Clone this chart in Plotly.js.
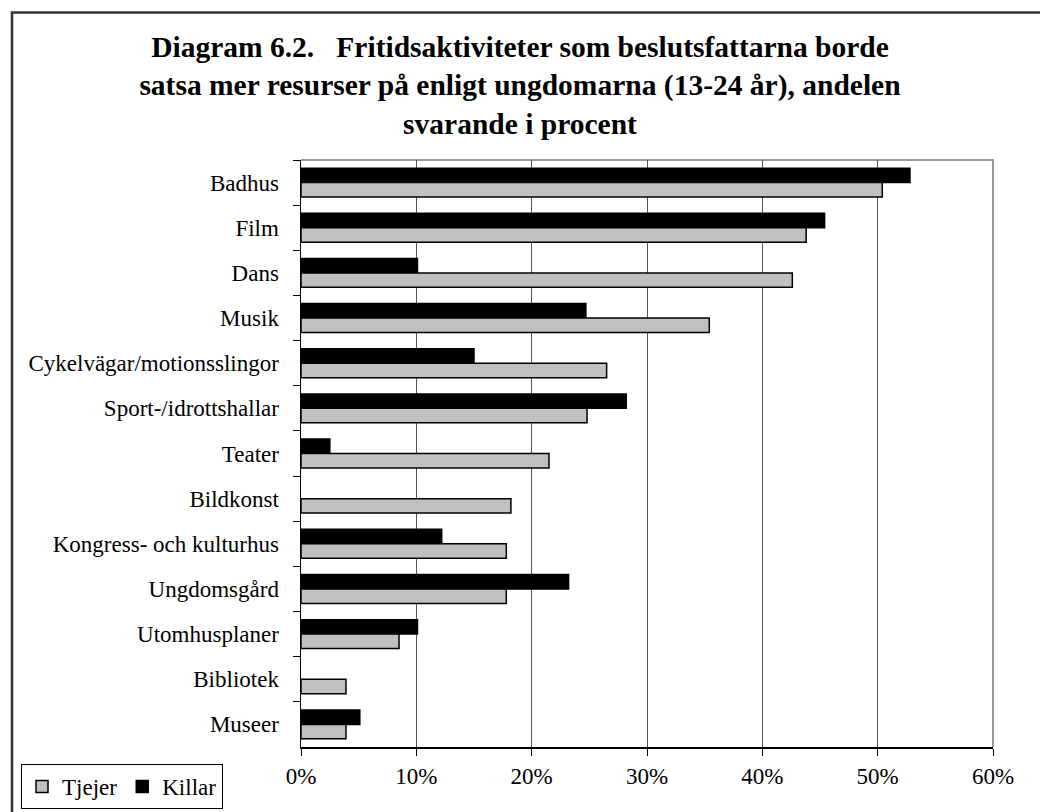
<!DOCTYPE html>
<html>
<head>
<meta charset="utf-8">
<script src="https://cdn.plot.ly/plotly-3.0.1.min.js"></script>
<style>
html,body{margin:0;padding:0;background:#fff;}
#chart{width:1040px;height:812px;}
</style>
</head>
<body>
<div id="chart"></div>
<script>
const categories = ['Badhus','Film','Dans','Musik','Cykelvägar/motionsslingor','Sport-/idrottshallar','Teater','Bildkonst','Kongress- och kulturhus','Ungdomsgård','Utomhusplaner','Bibliotek','Museer'];
const tjejer = [50.4, 43.8, 42.6, 35.4, 26.5, 24.8, 21.5, 18.2, 17.8, 17.8, 8.5, 3.9, 3.9];
const killar = [52.8, 45.4, 10.1, 24.7, 15.0, 28.2, 2.5, 0, 12.2, 23.2, 10.1, 0, 5.1];
const xTickVals = [0, 10, 20, 30, 40, 50, 60];
const xTickText = ['0%', '10%', '20%', '30%', '40%', '50%', '60%'];
const titleText = '<b>Diagram 6.2.   Fritidsaktiviteter som beslutsfattarna borde<br>satsa mer resurser på enligt ungdomarna (13-24 år), andelen<br>svarande i procent</b>';

const W = 1040, H = 812;
const m = {l: 301, r: 47, t: 160, b: 65};
const pw = W - m.l - m.r, ph = H - m.t - m.b;
const px = x => (x - m.l) / pw;
const py = y => (H - m.b - y) / ph;

const font = '"Liberation Serif", "Times New Roman", serif';

const lineW = v => v.map(d => d === 0 ? 0 : 1.5);

const traces = [
  {type: 'bar', orientation: 'h', name: 'Killar', y: categories, x: killar,
   marker: {color: '#000000', line: {color: '#000000', width: lineW(killar)}}, legendrank: 2, hoverinfo: 'x+y'},
  {type: 'bar', orientation: 'h', name: 'Tjejer', y: categories, x: tjejer,
   marker: {color: '#c0c0c0', line: {color: '#000000', width: lineW(tjejer)}}, legendrank: 1, hoverinfo: 'x+y'}
];

const layout = {
  width: W, height: H,
  margin: m,
  paper_bgcolor: '#ffffff', plot_bgcolor: '#ffffff',
  font: {family: font, size: 23, color: '#000000'},
  title: {text: titleText, font: {family: font, size: 29.5, color: '#000000'},
          x: 0.5, xref: 'container', xanchor: 'center', y: 1 - 57 / H, yref: 'container', yanchor: 'top'},
  barmode: 'group', bargap: 0.36, bargroupgap: 0,
  xaxis: {range: [0, 60], tickmode: 'array', tickvals: xTickVals, ticktext: xTickText, showgrid: true, gridcolor: '#555555', gridwidth: 1,
          zeroline: false, showline: true, linecolor: '#000000', linewidth: 1.5, ticks: 'outside', ticklen: 7,
          tickcolor: '#000000', tickfont: {family: font, size: 23, color: '#000000'}, ticklabelstandoff: 1,
          automargin: false, fixedrange: true},
  yaxis: {autorange: 'reversed', type: 'category', showline: true, linecolor: '#000000', linewidth: 1.5,
          ticks: 'outside', ticklen: 7, tickcolor: '#000000', tickson: 'boundaries', showgrid: false,
          tickfont: {family: font, size: 23, color: '#000000'}, ticklabelstandoff: 16, automargin: false, fixedrange: true},
  legend: {orientation: 'h', xref: 'container', yref: 'container', x: 21 / W, y: 1 - 764 / H, xanchor: 'left', yanchor: 'top',
           bordercolor: '#000000', borderwidth: 1, bgcolor: '#ffffff',
           font: {family: font, size: 23, color: '#000000'}, itemwidth: 30, tracegroupgap: 0},
  showlegend: true,
  shapes: [
    {type: 'path', xref: 'paper', yref: 'paper', layer: 'below',
     path: 'M 0,1 L 1,1 L 1,0', line: {color: '#999999', width: 2}},
    {type: 'path', xref: 'paper', yref: 'paper', layer: 'above',
     path: 'M ' + px(12) + ',' + py(830) + ' L ' + px(12) + ',' + py(12.5) + ' L ' + px(1050) + ',' + py(12.5),
     line: {color: '#333333', width: 2.5}}
  ]
};

Plotly.newPlot('chart', traces, layout, {displayModeBar: false, staticPlot: true});
</script>
</body>
</html>
